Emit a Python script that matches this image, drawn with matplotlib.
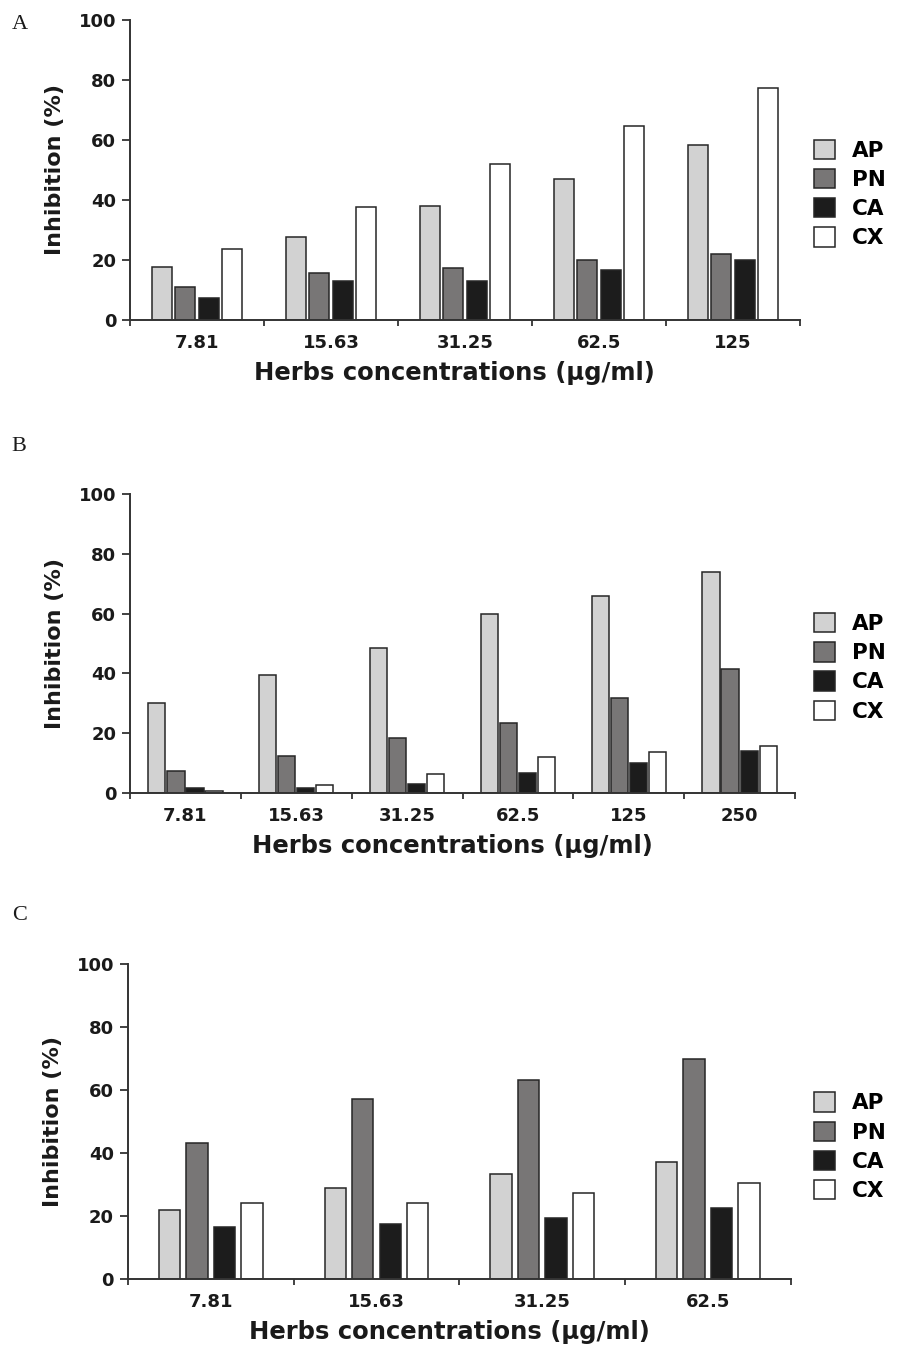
import numpy as np
import matplotlib
matplotlib.use("Agg")
import matplotlib.pyplot as plt
from matplotlib.patches import Patch

plt.rcParams['font.family'] = ['DejaVu Sans']
plt.rcParams['font.weight'] = 'bold'

series = ["AP", "PN", "CA", "CX"]
colors = ["#d2d2d2", "#787676", "#1c1c1c", "#ffffff"]

# panel A
conc_a = ["7.81", "15.63", "31.25", "62.5", "125"]
ap_a = [17.7, 27.6, 38.0, 47.1, 58.2]
pn_a = [10.9, 15.7, 17.2, 20.0, 22.0]
ca_a = [7.3, 12.9, 12.9, 16.6, 19.9]
cx_a = [23.5, 37.5, 52.0, 64.6, 77.2]

# panel B
conc_b = ["7.81", "15.63", "31.25", "62.5", "125", "250"]
ap_b = [30.2, 39.5, 48.4, 59.9, 66.0, 73.8]
pn_b = [7.3, 12.2, 18.5, 23.3, 31.7, 41.5]
ca_b = [1.7, 1.7, 3.1, 6.7, 9.9, 14.1]
cx_b = [0.5, 2.5, 6.5, 12.1, 13.6, 15.6]

# panel C
conc_c = ["7.81", "15.63", "31.25", "62.5"]
ap_c = [21.9, 28.8, 33.2, 37.2]
pn_c = [43.3, 57.1, 63.2, 69.8]
ca_c = [16.6, 17.4, 19.5, 22.6]
cx_c = [24.0, 24.0, 27.2, 30.6]

EDGE = "#262626"
TXT = "#1a1a1a"
FIG_H = 13.49


def draw_panel(fig, rect, letter, letter_y, cats, data, bar_w, step):
    ax = fig.add_axes(rect)
    x = np.arange(len(cats)) + 0.5
    for i, vals in enumerate(data):
        off = (i - 1.5) * step
        ax.bar(x + off, vals, width=bar_w, color=colors[i], edgecolor=EDGE,
               linewidth=1.1, label=series[i])
    ax.set_xlim(0, len(cats))
    ax.set_ylim(0, 100)
    ax.set_yticks([0, 20, 40, 60, 80, 100])
    ax.set_xticks(x)
    ax.set_xticklabels(cats)
    ax.set_xticks(np.arange(len(cats) + 1), minor=True)
    ax.tick_params(axis='x', which='major', length=0, pad=10,
                   labelsize=13, labelcolor=TXT)
    ax.tick_params(axis='x', which='minor', length=4, width=1.3,
                   direction='out', color="#333333")
    ax.tick_params(axis='y', length=6, width=1.3, pad=4, labelsize=13,
                   labelcolor=TXT, color="#333333")
    for s in ["top", "right"]:
        ax.spines[s].set_visible(False)
    for s in ["left", "bottom"]:
        ax.spines[s].set_linewidth(1.4)
        ax.spines[s].set_color("#333333")
    ax.set_ylabel("Inhibition (%)", fontsize=16, fontweight='bold',
                  color=TXT, labelpad=10)
    ax.set_xlabel("Herbs concentrations (µg/ml)", fontsize=17.5,
                  fontweight='bold', color=TXT)
    # same gap (about 0.41 in) under the axis in every panel
    ax.xaxis.set_label_coords(0.485, -0.41 / (rect[3] * FIG_H))
    handles = [Patch(facecolor=colors[i], edgecolor=EDGE, linewidth=1.1,
                     label=series[i]) for i in range(4)]
    # legend middle sits a bit below the middle of the axes
    y0 = rect[1] + 0.42 * rect[3]
    ax.legend(handles=handles, loc='center left', bbox_to_anchor=(0.906, y0),
              bbox_transform=fig.transFigure, frameon=False,
              prop={'size': 15.5, 'weight': 'bold'}, borderpad=0,
              borderaxespad=0, handlelength=1.0, handleheight=1.0,
              labelspacing=0.38, handletextpad=0.8)
    fig.text(0.013, letter_y, letter, family='Liberation Serif',
             fontweight='normal', fontsize=16, color=TXT, va='center')
    return ax


fig = plt.figure(figsize=(8.98, FIG_H), dpi=100)

draw_panel(fig, [0.1448, 0.7628, 0.746, 0.2224], "A", 0.982,
           conc_a, [ap_a, pn_a, ca_a, cx_a], 0.15, 0.175)
draw_panel(fig, [0.1448, 0.4122, 0.7405, 0.2216], "B", 0.669,
           conc_b, [ap_b, pn_b, ca_b, cx_b], 0.155, 0.172)
draw_panel(fig, [0.1425, 0.0519, 0.738, 0.2335], "C", 0.321,
           conc_c, [ap_c, pn_c, ca_c, cx_c], 0.128, 0.166)

fig.savefig("out.png", dpi=100)
